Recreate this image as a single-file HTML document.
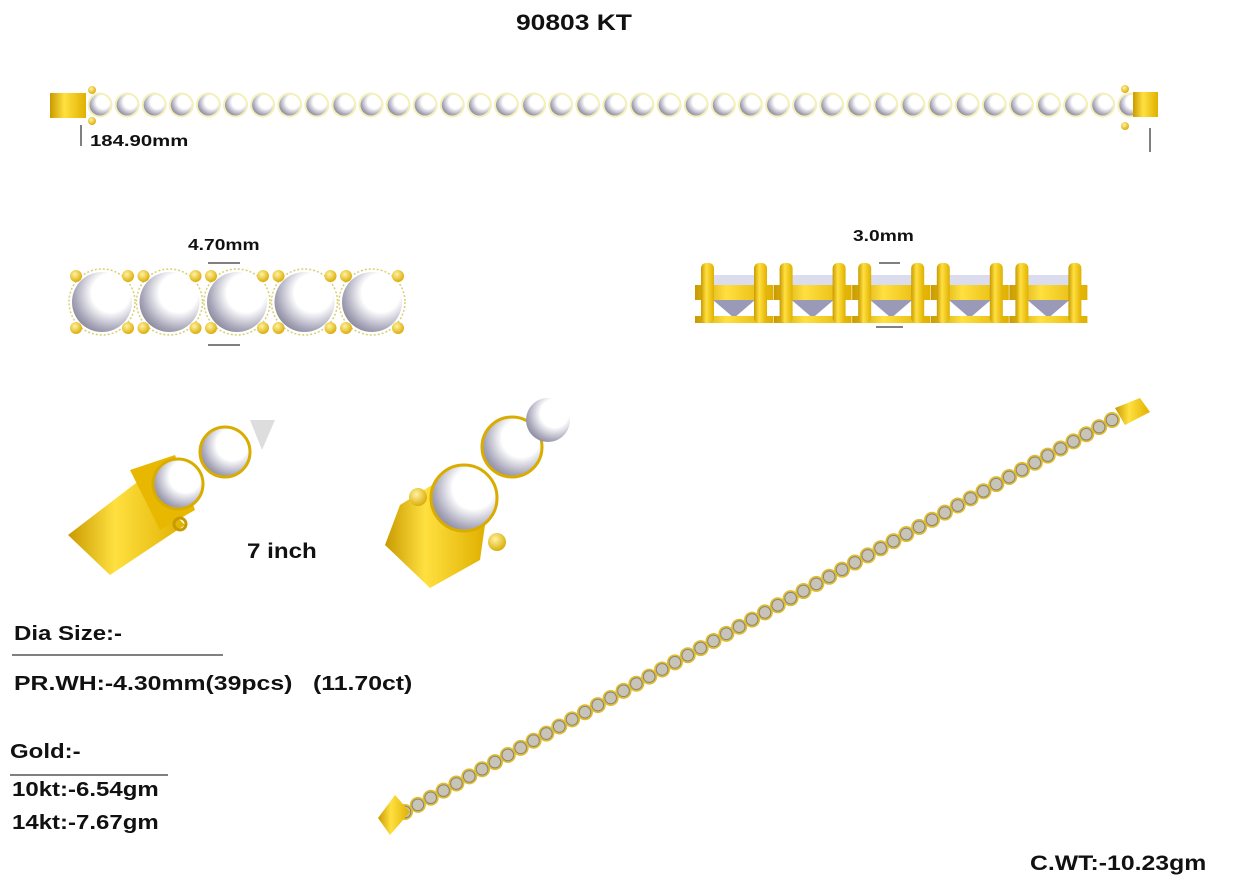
<!DOCTYPE html>
<html><head><style>
body{margin:0;background:#fff;width:1238px;height:886px;overflow:hidden;position:relative;font-family:"Liberation Sans",sans-serif}
.t{position:absolute;font-weight:bold;color:#111;white-space:nowrap;transform-origin:0 0;transform:scaleX(1.2)}
</style></head><body>
<svg id="s" width="1238" height="886" style="position:absolute;left:0;top:0">
<defs>
<radialGradient id="st" cx="0.65" cy="0.35" r="0.8"><stop offset="0.4" stop-color="#fff"/><stop offset="0.75" stop-color="#a9a8bb"/><stop offset="1" stop-color="#77768a"/></radialGradient>
<linearGradient id="gd" x1="0" y1="0" x2="1" y2="0"><stop offset="0" stop-color="#c99a00"/><stop offset="0.4" stop-color="#ffe040"/><stop offset="1" stop-color="#e0b000"/></linearGradient>
<radialGradient id="ball" cx="0.4" cy="0.35" r="0.7"><stop offset="0" stop-color="#fff3a0"/><stop offset="1" stop-color="#d9a800"/></radialGradient>
</defs>
<g id="g"></g>
<rect x="50" y="93" width="36" height="25" fill="url(#gd)"/>
<rect x="1133" y="92" width="25" height="25" fill="url(#gd)"/>
<line x1="81" y1="125" x2="81" y2="146" stroke="#000"/>
<line x1="1150" y1="128" x2="1150" y2="152" stroke="#000"/>
<line x1="208" y1="263" x2="240" y2="263" stroke="#000"/>
<line x1="208" y1="345" x2="240" y2="345" stroke="#000"/>
<line x1="879" y1="263" x2="900" y2="263" stroke="#000"/>
<line x1="876" y1="327" x2="903" y2="327" stroke="#000"/>
<line x1="12" y1="655" x2="223" y2="655" stroke="#000"/>
<line x1="10" y1="775" x2="168" y2="775" stroke="#000"/>
<polygon points="68,535 140,480 185,525 110,575" fill="url(#gd)"/>
<polygon points="130,470 175,455 195,510 160,530" fill="#e8b800"/>
<circle cx="180" cy="524" r="6" fill="none" stroke="#c79b00" stroke-width="3"/>
<circle cx="178" cy="484" r="25" fill="url(#st)" stroke="#d9ad00" stroke-width="3"/>
<circle cx="225" cy="452" r="25" fill="url(#st)" stroke="#d9ad00" stroke-width="3"/>
<polygon points="250,420 275,420 262,450" fill="#ddd"/>
<polygon points="385,545 400,505 440,480 485,525 480,560 430,588" fill="url(#gd)"/>
<circle cx="418" cy="497" r="9" fill="url(#ball)"/>
<circle cx="497" cy="542" r="9" fill="url(#ball)"/>
<circle cx="464" cy="498" r="33" fill="url(#st)" stroke="#d9ad00" stroke-width="3"/>
<circle cx="512" cy="447" r="30" fill="url(#st)" stroke="#d9ad00" stroke-width="3"/>
<circle cx="548" cy="420" r="22" fill="url(#st)"/>
<polygon points="378,818 395,795 410,812 390,835" fill="url(#gd)"/>
<polygon points="1115,408 1140,398 1150,412 1125,425" fill="url(#gd)"/>
</svg>
<div class="t" style="left:516px;top:10px;font-size:22px">90803 KT</div>
<div class="t" style="left:90px;top:133px;font-size:16px;transform:scaleX(1.27)">184.90mm</div>
<div class="t" style="left:188px;top:237px;font-size:16px">4.70mm</div>
<div class="t" style="left:853px;top:228px;font-size:16px">3.0mm</div>
<div class="t" style="left:247px;top:540px;font-size:21px;transform:scaleX(1.15)">7 inch</div>
<div class="t" style="left:14px;top:623px;font-size:20px">Dia Size:-</div>
<div class="t" style="left:14px;top:673px;font-size:20px;transform:scaleX(1.24)">PR.WH:-4.30mm(39pcs) &nbsp;&nbsp;(11.70ct)</div>
<div class="t" style="left:10px;top:741px;font-size:20px">Gold:-</div>
<div class="t" style="left:12px;top:779px;font-size:20px">10kt:-6.54gm</div>
<div class="t" style="left:12px;top:812px;font-size:20px">14kt:-7.67gm</div>
<div class="t" style="left:1030px;top:852px;font-size:21px;transform:scaleX(1.18)">C.WT:-10.23gm</div>
<script>
var g=document.getElementById('g'),h='';
for(var i=0;i<39;i++){var x=100+i*27.1;h+='<circle cx="'+x+'" cy="105" r="12.5" fill="#f4f0b8"/><circle cx="'+x+'" cy="105" r="10.5" fill="url(#st)"/>';}
h+='<circle cx="92" cy="90" r="4" fill="url(#ball)"/><circle cx="92" cy="121" r="4" fill="url(#ball)"/><circle cx="1125" cy="89" r="4" fill="url(#ball)"/><circle cx="1125" cy="126" r="4" fill="url(#ball)"/>';
for(var i=0;i<5;i++){var x=102+i*67.5;h+='<circle cx="'+x+'" cy="302" r="33" fill="none" stroke="#d8d070" stroke-width="1.5" stroke-dasharray="2 2"/><circle cx="'+x+'" cy="302" r="30" fill="url(#st)"/>';
[[-26,-26],[26,-26],[-26,26],[26,26]].forEach(function(d){h+='<circle cx="'+(x+d[0])+'" cy="'+(302+d[1])+'" r="6" fill="url(#ball)"/>';});}
for(var i=0;i<5;i++){var x=695+i*78.6;
h+='<rect x="'+(x+8)+'" y="275" width="62" height="20" fill="#dcdcef"/><polygon points="'+(x+18)+',300 '+(x+60)+',300 '+(x+39)+',318" fill="#9a99b8"/>';
h+='<rect x="'+x+'" y="285" width="78" height="15" fill="url(#gd)"/><rect x="'+x+'" y="316" width="78" height="7" fill="url(#gd)"/>';
h+='<rect x="'+(x+6)+'" y="263" width="13" height="60" rx="5" fill="url(#gd)"/><rect x="'+(x+59)+'" y="263" width="13" height="60" rx="5" fill="url(#gd)"/>';}
var x0=405,y0=812,x1=1112,y1=420,n=56;
for(var i=0;i<n;i++){var t=i/(n-1),x=x0+(x1-x0)*t,y=y0+(y1-y0)*t;h+='<circle cx="'+x+'" cy="'+y+'" r="8" fill="#e0bd30"/><circle cx="'+x+'" cy="'+y+'" r="5.8" fill="#c8c4b8" stroke="#8a8578" stroke-width="1"/>';}
g.innerHTML=h;
</script>
</body></html>
